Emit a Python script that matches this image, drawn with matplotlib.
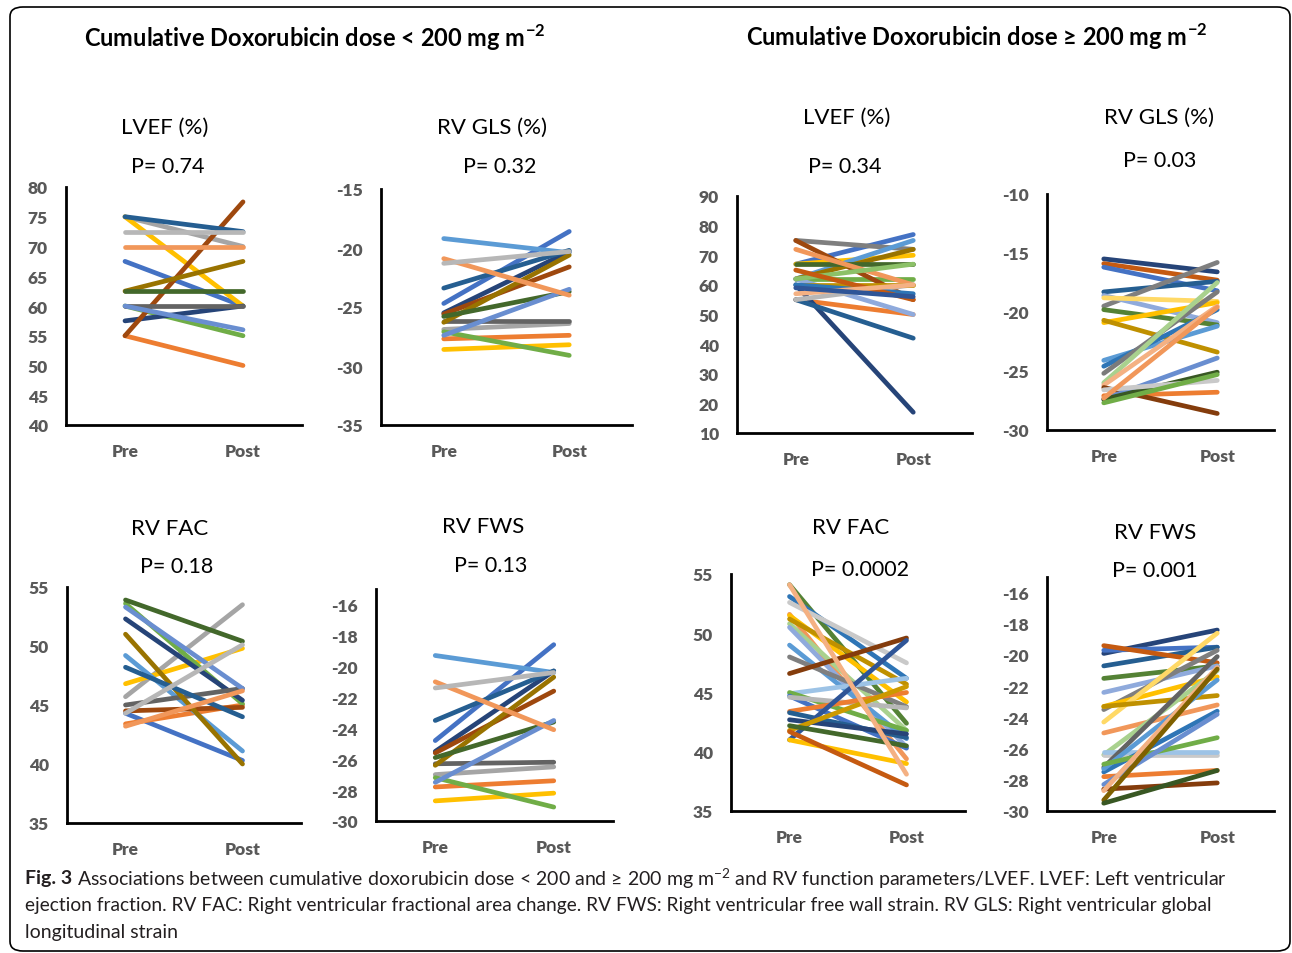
import matplotlib
matplotlib.use("Agg")
import matplotlib.pyplot as plt
from matplotlib.patches import FancyBboxPatch

plt.rcParams['font.family'] = ['Lato', 'DejaVu Sans']
plt.rcParams['mathtext.fontset'] = 'custom'
plt.rcParams['mathtext.rm'] = 'Lato'
plt.rcParams['mathtext.bf'] = 'Lato:bold'
plt.rcParams['axes.unicode_minus'] = False

W, H = 1292, 954
categories = ['Pre', 'Post']

# ---- dose < 200 ----
lvef_lo_pre = [67.5, 55, 75, 75, 60, 57.5, 55, 60, 62.5, 75, 62.5, 60, 70, 72.5]
lvef_lo_post = [60, 50, 70, 60, 55, 60, 77.5, 60, 67.5, 72.5, 62.5, 56, 70, 72.5]
lvef_lo_colors = ['#4472C4', '#ED7D31', '#A5A5A5', '#FFC000', '#70AD47', '#264478', '#9E480E',
                  '#636363', '#997300', '#255E91', '#43682B', '#698ED0', '#F1975A', '#B7B7B7']

gls_lo_pre = [-24.7, -27.7, -26.9, -28.6, -19.2, -27.1, -25.5, -25.6, -26.2, -26.3, -23.4, -25.8, -27.4, -20.9, -21.3]
gls_lo_post = [-18.6, -27.4, -26.4, -28.2, -20.4, -29.1, -20.3, -21.6, -26.2, -20.6, -20.2, -23.7, -23.5, -24.0, -20.3]

fac_lo_pre = [44.3, 43.4, 45.7, 46.8, 49.2, 53.6, 52.3, 44.5, 45.0, 51.0, 48.2, 53.9, 53.3, 43.2, 44.3]
fac_lo_post = [40.3, 45.0, 53.5, 49.8, 41.1, 45.1, 45.4, 44.8, 46.4, 40.0, 44.0, 50.4, 46.4, 46.2, 50.1]

fws_lo_pre = [-24.8, -27.8, -27.0, -28.7, -19.3, -27.2, -25.5, -25.6, -26.3, -26.4, -23.5, -25.9, -27.5, -21.0, -21.4]
fws_lo_post = [-18.6, -27.4, -26.5, -28.2, -20.4, -29.1, -20.3, -21.6, -26.2, -20.7, -20.3, -23.6, -23.5, -24.1, -20.4]

lo_colors = ['#4472C4', '#ED7D31', '#A5A5A5', '#FFC000', '#5B9BD5', '#70AD47', '#264478', '#9E480E',
             '#636363', '#997300', '#255E91', '#43682B', '#698ED0', '#F1975A', '#B7B7B7']

# ---- dose >= 200 ----
lvef_hi_pre = [67, 55, 75, 67, 62, 62, 60, 75, 62, 55, 67, 62, 72, 55, 60, 60, 62, 65, 57, 59]
lvef_hi_post = [77, 50, 72, 70, 75, 62, 17, 55, 72, 42, 67, 50, 60, 60, 60, 57, 67, 55, 60, 56]
lvef_hi_colors = ['#4472C4', '#ED7D31', '#7F7F7F', '#FFC000', '#5B9BD5', '#70AD47', '#264478', '#9E480E',
                  '#997300', '#255E91', '#43682B', '#8FAADC', '#F1975A', '#B7B7B7', '#BF9000', '#2E75B6',
                  '#8CC168', '#C55A11', '#F4B183', '#2F5597']

gls_hi_pre = [-15.5, -15.9, -16.2, -18.3, -19.5, -18.6, -18.8, -19.8, -20.9, -20.7, -24.1,
              -24.6, -25.2, -26.0, -26.2, -27.1, -26.4, -27.4, -27.4, -26.6, -27.7, -27.3]
gls_hi_post = [-16.6, -17.3, -18.2, -17.4, -15.8, -20.9, -19.1, -21.1, -19.2, -23.4, -21.2,
               -19.8, -18.3, -17.5, -19.5, -26.8, -28.6, -23.9, -25.1, -25.8, -25.3, -19.6]
gls_hi_colors = ['#264478', '#C55A11', '#4472C4', '#255E91', '#7F7F7F', '#8FAADC', '#FFD966', '#548235',
                 '#FFC000', '#BF9000', '#5B9BD5', '#2E75B6', '#7B7B7B', '#A9D18E', '#F4B183', '#ED7D31',
                 '#843C0C', '#698ED0', '#385723', '#C9C9C9', '#70AD47', '#F1975A']

fac_hi_pre = [54.1, 53.1, 52.6, 51.6, 51.5, 50.8, 50.5, 51.2, 49.0, 48.0, 46.6, 44.9, 45.0, 44.7,
              44.6, 43.4, 43.3, 42.7, 41.0, 41.8, 42.2, 41.0, 41.7, 54.1]
fac_hi_post = [42.4, 46.2, 47.5, 39.4, 44.2, 41.8, 40.4, 45.7, 41.1, 43.8, 49.6, 46.2, 41.8, 40.3,
               43.7, 45.0, 41.2, 41.5, 49.4, 45.5, 40.5, 39.0, 37.2, 38.1]
fac_hi_colors = ['#548235', '#2E75B6', '#C9C9C9', '#F1975A', '#FFC000', '#A9D18E', '#8FAADC', '#BF9000',
                 '#5B9BD5', '#7F7F7F', '#843C0C', '#9DC3E6', '#70AD47', '#4472C4', '#B7B7B7', '#ED7D31',
                 '#255E91', '#264478', '#2F5597', '#CC9900', '#43682B', '#FFC000', '#C55A11', '#F4B183']

fws_hi_pre = [-19.9, -19.7, -20.7, -19.4, -21.5, -22.4, -23.5, -23.3, -24.3, -23.3, -25.0, -26.4,
              -26.4, -26.2, -27.2, -27.5, -27.3, -27.0, -27.8, -28.6, -28.3, -28.7, -29.3, -29.5]
fws_hi_post = [-18.4, -19.5, -19.5, -20.5, -20.7, -20.7, -19.7, -21.4, -18.6, -22.6, -23.2, -21.0,
               -26.4, -26.2, -20.1, -23.6, -21.6, -25.3, -27.4, -28.2, -23.8, -20.8, -20.9, -27.4]
fws_hi_colors = ['#264478', '#4472C4', '#255E91', '#C55A11', '#548235', '#8FAADC', '#7F7F7F', '#FFC000',
                 '#FFD966', '#BF9000', '#F1975A', '#A9D18E', '#C9C9C9', '#9DC3E6', '#636363', '#2E75B6',
                 '#5B9BD5', '#70AD47', '#ED7D31', '#843C0C', '#698ED0', '#F4B183', '#7F6000', '#385723']

fig = plt.figure(figsize=(W / 100, H / 100), dpi=100)


def ftext(x, y, s, **kw):
    fig.text(x / W, 1 - y / H, s, ha='center', va='center', **kw)


def panel(box, pre, post, colors, ylim, ticks, title, ptxt, tpos, ppos):
    l, r, b, t = box
    ax = fig.add_axes([l / W, 1 - b / H, (r - l) / W, (b - t) / H])
    for p0, p1, c in zip(pre, post, colors):
        ax.plot([0, 1], [p0, p1], color=c, lw=3.4, solid_capstyle='round')
    ax.set_xlim(-0.5, 1.5)
    ax.set_ylim(*ylim)
    ax.set_yticks(list(ticks), labels=[str(v) for v in ticks], fontweight='heavy')
    ax.set_xticks([0, 1], labels=categories, fontweight='heavy')
    for s in ['top', 'right']:
        ax.spines[s].set_visible(False)
    for s in ['left', 'bottom']:
        ax.spines[s].set_linewidth(2)
    ax.tick_params(length=0, labelsize=12.5, labelcolor='#595959')
    ax.tick_params(axis='y', pad=13)
    ax.tick_params(axis='x', pad=13, labelsize=12.5)
    ftext(*tpos, title, fontsize=16)
    ftext(*ppos, ptxt, fontsize=15.5)
    return ax


panel((66, 302, 426, 188), lvef_lo_pre, lvef_lo_post, lvef_lo_colors, (40, 80), range(40, 81, 5),
      'LVEF (%)', 'P= 0.74', (165, 128), (168, 167))
panel((381, 632, 426, 190), gls_lo_pre, gls_lo_post, lo_colors, (-35, -15), range(-35, -14, 5),
      'RV GLS (%)', 'P= 0.32', (492, 128), (500, 167))
panel((737, 972, 434, 197), lvef_hi_pre, lvef_hi_post, lvef_hi_colors, (10, 90), range(10, 91, 10),
      'LVEF (%)', 'P= 0.34', (847, 118), (845, 167))
panel((1047, 1274, 431, 195), gls_hi_pre, gls_hi_post, gls_hi_colors, (-30, -10), range(-30, -9, 5),
      'RV GLS (%)', 'P= 0.03', (1159, 118), (1160, 161))
panel((67, 301, 824, 588), fac_lo_pre, fac_lo_post, lo_colors, (35, 55), range(35, 56, 5),
      'RV FAC', 'P= 0.18', (170, 529), (177, 567))
panel((376, 613, 822, 590), fws_lo_pre, fws_lo_post, lo_colors, (-30, -15), range(-30, -15, 2),
      'RV FWS', 'P= 0.13', (483, 527), (491, 566))
panel((731, 965, 812, 575), fac_hi_pre, fac_hi_post, fac_hi_colors, (35, 55), range(35, 56, 5),
      'RV FAC', 'P= 0.0002', (851, 528), (860, 570))
panel((1047, 1274, 812, 578), fws_hi_pre, fws_hi_post, fws_hi_colors, (-30, -15), range(-30, -15, 2),
      'RV FWS', 'P= 0.001', (1155, 533), (1155, 571))

ftext(315, 38, r'Cumulative Doxorubicin dose < 200 mg m$^{\mathbf{-2}}$', fontsize=17, fontweight='bold')
ftext(977, 37, r'Cumulative Doxorubicin dose ≥ 200 mg m$^{\mathbf{-2}}$', fontsize=17, fontweight='bold')

# caption
cap_color = '#231F20'
t0 = fig.text(25 / W, 1 - 879 / H, 'Fig. 3', fontsize=14, fontweight='bold', color=cap_color, va='center')
fig.canvas.draw()
bb = t0.get_window_extent()
fig.text((bb.x1 + 5) / W, 1 - 879 / H,
         r'Associations between cumulative doxorubicin dose < 200 and ≥ 200 mg m$^{-2}$ and RV function '
         'parameters/LVEF. LVEF: Left ventricular', fontsize=14, color=cap_color, va='center')
fig.text(25 / W, 1 - 906 / H,
         'ejection fraction. RV FAC: Right ventricular fractional area change. RV FWS: Right ventricular '
         'free wall strain. RV GLS: Right ventricular global', fontsize=13.8, color=cap_color, va='center')
fig.text(25 / W, 1 - 933 / H, 'longitudinal strain', fontsize=14, color=cap_color, va='center')

border = FancyBboxPatch((10 / W, 1 - 952 / H), 1280 / W, 944 / H, boxstyle='round,pad=0,rounding_size=0.01',
                        transform=fig.transFigure, fill=False, lw=1.2, ec='black')
fig.patches.append(border)

fig.savefig('out.png', dpi=100)
